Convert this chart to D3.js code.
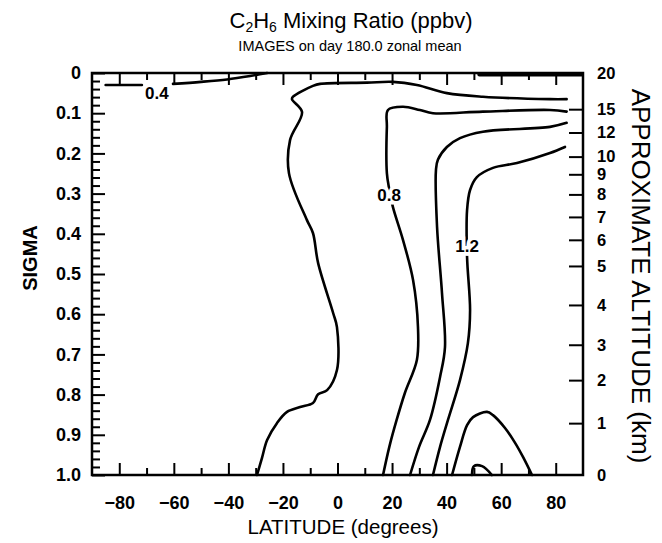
<!DOCTYPE html>
<html><head><meta charset="utf-8">
<script src="https://cdn.jsdelivr.net/npm/d3@7"></script>
<style>body{margin:0;background:#fff}svg{display:block}</style>
</head><body>
<svg id="chart" width="662" height="543"></svg>
<script>
// ---- data ----
const latMajorTicks = [-80, -60, -40, -20, 0, 20, 40, 60, 80];
const latMinorTicks = [-70, -50, -30, -10, 10, 30, 50, 70];
const sigmaMajorTicks = [0, 0.1, 0.2, 0.3, 0.4, 0.5, 0.6, 0.7, 0.8, 0.9, 1.0];
const sigmaTickLabels = ["0", "0.1", "0.2", "0.3", "0.4", "0.5", "0.6", "0.7", "0.8", "0.9", "1.0"];
const sigmaMinorTicks = [0.02,0.04,0.06,0.08,0.12,0.14,0.16,0.18,0.22,0.24,0.26,0.28,0.32,0.34,0.36,0.38,0.42,0.44,0.46,0.48,0.52,0.54,0.56,0.58,0.62,0.64,0.66,0.68,0.72,0.74,0.76,0.78,0.82,0.84,0.86,0.88,0.92,0.94,0.96,0.98];
const altitudeLabels = ["20", "15", "12", "10", "9", "8", "7", "6", "5", "4", "3", "2", "1", "0"];
const altitudeSigma = [0, 0.09, 0.148, 0.208, 0.252, 0.302, 0.358, 0.415, 0.480, 0.577, 0.676, 0.764, 0.871, 1.0];

// contour lines as [latitude, sigma]
const contour04West = [[-85, 0.030], [-71.7, 0.030]];
const contour04East = [[-60.3, 0.027], [-50, 0.022], [-40.5, 0.016], [-32, 0.0075], [-25.8, 0.0]];
const contourTopRim = [[52, 0.004], [70, 0.004], [89.5, 0.004]];
const contour06 = [[84, 0.065], [77.9, 0.065], [53.3, 0.059], [40.1, 0.050], [29.1, 0.030], [20.3, 0.022], [10.8, 0.024], [-6.4, 0.027], [-9.0, 0.032], [-16.3, 0.059], [-16.7, 0.065], [-13.0, 0.097], [-17.4, 0.167], [-17.8, 0.249], [-11.2, 0.366], [-9.0, 0.398], [-7.1, 0.473], [-1.6, 0.597], [-0.2, 0.632], [-0.2, 0.739], [-3.8, 0.789], [-7.1, 0.799], [-9.0, 0.821], [-13.7, 0.831], [-18.5, 0.843], [-22.2, 0.871], [-25.8, 0.913], [-27.7, 0.958], [-29.5, 1.0]];
const contour08 = [[84, 0.096], [77.9, 0.092], [53.3, 0.096], [35.0, 0.100], [30.2, 0.092], [24.0, 0.084], [18.5, 0.092], [18.1, 0.134], [18.1, 0.249], [19.0, 0.290], [20.3, 0.333], [24.0, 0.415], [27.7, 0.515], [29.5, 0.632], [29.1, 0.714], [24.7, 0.796], [21.6, 0.865], [19.0, 0.930], [16.7, 1.0]];
const contour10 = [[84, 0.124], [77.9, 0.134], [53.3, 0.146], [44.9, 0.162], [40.1, 0.184], [36.8, 0.216], [36.1, 0.241], [36.5, 0.383], [38.3, 0.547], [39.4, 0.682], [37.6, 0.756], [33.9, 0.863], [29.9, 0.930], [26.6, 1.0]];
const contour12 = [[83.4, 0.184], [77.9, 0.199], [65.8, 0.224], [57.0, 0.236], [51.1, 0.259], [48.6, 0.291], [47.5, 0.341], [47.5, 0.458], [48.6, 0.590], [47.8, 0.672], [44.9, 0.764], [40.5, 0.863], [37.6, 0.930], [35.0, 1.0]];
const contour14 = [[42.0, 1.0], [44.9, 0.930], [47.5, 0.876], [49.7, 0.856], [54.8, 0.843], [57.0, 0.851], [61.4, 0.883], [65.1, 0.920], [68.0, 0.955], [71.3, 1.0]];
const contour16 = [[49.3, 1.0], [50.0, 0.978], [53.0, 0.978], [56.6, 1.0]];

const contourLabels = ["0.4", "0.8", "1.2"];
const contourLabelLat = [-66.2, 18.9, 47.5];
const contourLabelSigma = [0.050, 0.303, 0.430];

// ---- drawing ----
const W = 662, H = 543;
const margin = {left: 92, right: 79, top: 73, bottom: 68};
const svg = d3.select("#chart");
const x = d3.scaleLinear().domain([-90, 90]).range([margin.left, W - margin.right]);
const y = d3.scaleLinear().domain([0, 1]).range([margin.top, H - margin.bottom]);
const font = "'Liberation Sans', Arial, Helvetica, sans-serif";

svg.append("rect").attr("width", W).attr("height", H).attr("fill", "#fff");

// title
const title = svg.append("text").attr("x", 351).attr("y", 28).attr("text-anchor", "middle")
  .attr("font-family", font).attr("font-size", 22).attr("fill", "#000");
title.append("tspan").text("C");
title.append("tspan").text("2").attr("font-size", 14).attr("dy", 4);
title.append("tspan").text("H").attr("dy", -4);
title.append("tspan").text("6").attr("font-size", 14).attr("dy", 4);
title.append("tspan").text(" Mixing Ratio (ppbv)").attr("dy", -4);
svg.append("text").attr("x", 350).attr("y", 51).attr("text-anchor", "middle")
  .attr("font-family", font).attr("font-size", 14.5).text("IMAGES on day 180.0 zonal mean");

// contours
const line = d3.line().x(d => x(d[0])).y(d => y(d[1])).curve(d3.curveCatmullRom.alpha(0.5));
const gC = svg.append("g").attr("fill", "none").attr("stroke", "#000").attr("stroke-width", 2.6)
  .attr("stroke-linejoin", "round").attr("stroke-linecap", "round");
[contour04West, contour04East, contour06, contour08, contour10, contour12, contour14, contour16]
  .forEach(c => gC.append("path").attr("d", line(c)));
gC.append("path").attr("d", line(contourTopRim)).attr("stroke-width", 4);

// contour labels
contourLabels.forEach((t, i) => {
  svg.append("text").attr("x", x(contourLabelLat[i])).attr("y", y(contourLabelSigma[i]))
    .attr("dy", "0.36em").attr("text-anchor", "middle")
    .attr("font-family", font).attr("font-size", 17).attr("font-weight", "bold")
    .attr("stroke", "#fff").attr("stroke-width", 7).attr("paint-order", "stroke")
    .text(t);
});

function styleAxis(g) {
  g.select(".domain").remove();
  g.selectAll(".tick line").attr("stroke", "#000").attr("stroke-width", 2);
  g.selectAll("text").attr("font-family", font).attr("fill", "#000");
}

// bottom ticks (inside)
svg.append("g").attr("transform", `translate(0,${y(1)})`)
  .call(d3.axisTop(x).tickValues(latMajorTicks).tickSize(12).tickFormat("")).call(styleAxis);
svg.append("g").attr("transform", `translate(0,${y(1)})`)
  .call(d3.axisTop(x).tickValues(latMinorTicks).tickSize(7).tickFormat("")).call(styleAxis);
// bottom labels
svg.append("g").attr("transform", `translate(0,${y(1)})`)
  .call(d3.axisBottom(x).tickValues(latMajorTicks).tickSize(0).tickPadding(21).tickFormat(d3.format("d")))
  .call(styleAxis).selectAll("text").attr("font-size", 18).attr("font-weight", "bold");
// top ticks (inside)
svg.append("g").attr("transform", `translate(0,${y(0)})`)
  .call(d3.axisBottom(x).tickValues(latMajorTicks).tickSize(12).tickFormat("")).call(styleAxis);
svg.append("g").attr("transform", `translate(0,${y(0)})`)
  .call(d3.axisBottom(x).tickValues(latMinorTicks).tickSize(7).tickFormat("")).call(styleAxis);

// left ticks (inside)
svg.append("g").attr("transform", `translate(${x(-90)},0)`)
  .call(d3.axisRight(y).tickValues(sigmaMajorTicks).tickSize(13).tickFormat("")).call(styleAxis);
svg.append("g").attr("transform", `translate(${x(-90)},0)`)
  .call(d3.axisRight(y).tickValues(sigmaMinorTicks).tickSize(8).tickFormat("")).call(styleAxis);
svg.append("g").attr("transform", `translate(${x(-90)},0)`)
  .call(d3.axisLeft(y).tickValues(sigmaMajorTicks).tickSize(0).tickPadding(11)
    .tickFormat((d, i) => sigmaTickLabels[i]))
  .call(styleAxis).selectAll("text").attr("font-size", 18).attr("font-weight", "bold");

// right altitude axis
svg.append("g").attr("transform", `translate(${x(90)},0)`)
  .call(d3.axisLeft(y).tickValues(altitudeSigma.slice(1, -1)).tickSize(14).tickFormat("")).call(styleAxis);
svg.append("g").attr("transform", `translate(${x(90)},0)`)
  .call(d3.axisRight(y).tickValues(altitudeSigma).tickSize(0).tickPadding(14)
    .tickFormat((d, i) => altitudeLabels[i]))
  .call(styleAxis).selectAll("text").attr("font-size", 16.5).attr("font-weight", "bold");

// frame
svg.append("rect").attr("x", x(-90)).attr("y", y(0)).attr("width", x(90) - x(-90)).attr("height", y(1) - y(0))
  .attr("fill", "none").attr("stroke", "#000").attr("stroke-width", 2.5);

// axis titles
svg.append("text").attr("transform", `translate(37,258) rotate(-90)`)
  .attr("text-anchor", "middle").attr("font-family", font).attr("font-size", 20).attr("font-weight", "bold")
  .text("SIGMA");
svg.append("text").attr("x", 343).attr("y", 534).attr("text-anchor", "middle")
  .attr("font-family", font).attr("font-size", 20.5).text("LATITUDE (degrees)");
svg.append("text").attr("transform", `translate(632,276) rotate(90)`)
  .attr("text-anchor", "middle").attr("font-family", font).attr("font-size", 26)
  .text("APPROXIMATE ALTITUDE (km)");
</script>
</body></html>
